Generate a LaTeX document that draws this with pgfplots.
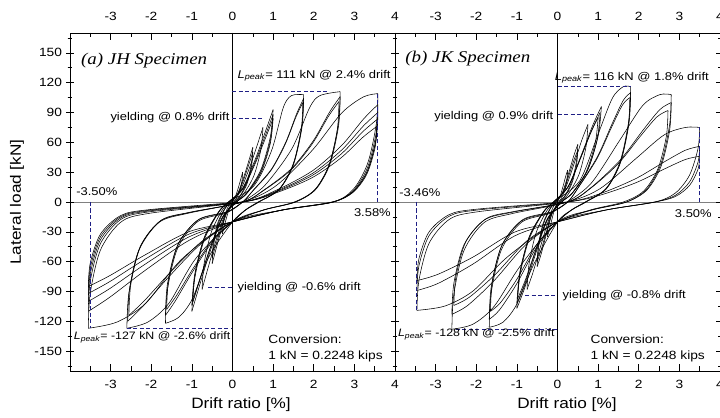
\documentclass[border=0pt]{standalone}
\usepackage{pgfplots}
\pgfplotsset{compat=1.18}
\usepackage{fontspec}
\setmainfont[FakeStretch=1.15]{Liberation Sans}
\newfontfamily\ttl[FakeStretch=1.15]{Liberation Serif}
\definecolor{dnavy}{rgb}{0.12,0.12,0.52}
\pgfplotsset{
  panel/.style={at={(#1,47bp)}, anchor=south west, scale only axis, width=325bp, height=338bp,
    xmin=-4, xmax=4, ymin=-170, ymax=170, clip mode=individual,
    xtick={-3,-2,-1,0,1,2,3,4}, minor xtick={-3.5,-2.5,-1.5,-0.5,0.5,1.5,2.5,3.5},
    ytick={-150,-120,-90,-60,-30,0,30,60,90,120,150},
    minor ytick={-165,-135,-105,-75,-45,-15,15,45,75,105,135,165},
    axis line style={line width=0.8bp}, tick style={black, line width=0.6bp},
    xtick align=inside, ytick align=center, major tick length=7bp, minor tick length=4.5bp,
    /pgf/number format/assume math mode=true,
    tick label style={font=\fontsize{12}{14}\selectfont}},
  hy/.style={black, line width=0.55bp, smooth, tension=0.5, mark=none},
  dl/.style={dnavy, line width=1bp, dash pattern=on 4bp off 2.5bp},
}
\tikzset{
  ann/.style={font=\fontsize{11.3}{13}\selectfont, inner sep=0pt},
  annb/.style={font=\fontsize{10.8}{13}\selectfont, inner sep=0pt},
  cnv/.style={font=\fontsize{12}{14}\selectfont, inner sep=0pt},
  ttlf/.style={font=\fontsize{16.5}{18}\selectfont\ttl\itshape, inner sep=0pt},
  lab/.style={font=\fontsize{15}{17}\selectfont, inner sep=0pt}
}
\begin{document}
\begin{tikzpicture}
\path[use as bounding box] (0,0) rectangle (720bp,418bp);
% ---------------- (a) JH ----------------
\begin{axis}[panel=70bp, xticklabel style={yshift=-6bp}, yticklabel style={xshift=-1bp}]
\addplot[gray, line width=0.7bp] coordinates {(-4,0) (4,0)};
\addplot[black, line width=0.6bp] coordinates {(0,-170) (0,170)};
\addplot[hy] coordinates {(0,0) (0.0625,4.5) (0.1375,13.5) (0.2,22.5) (0.25,30)};
\addplot[hy] coordinates {(0.25,30) (0.2325,21) (0.175,10.5) (0.0875,3) (0.025,0) (-0.0625,-4.8) (-0.1375,-14.4) (-0.2,-24) (-0.25,-32)};
\addplot[hy] coordinates {(-0.25,-32) (-0.2325,-22.4) (-0.175,-11.2) (-0.0875,-3.2) (-0.025,0) (0.125,8.25) (0.275,24.75) (0.4,41.25) (0.5,55)};
\addplot[hy] coordinates {(0.5,55) (0.465,38.5) (0.35,19.25) (0.175,5.5) (0.05,0) (-0.125,-9.3) (-0.275,-27.9) (-0.4,-46.5) (-0.5,-62)};
\addplot[hy] coordinates {(-0.5,-62) (-0.465,-43.4) (-0.35,-21.7) (-0.175,-6.2) (-0.05,0) (0.125,7.5) (0.275,22.5) (0.4,37.5) (0.5,50)};
\addplot[hy] coordinates {(0.5,50) (0.465,35) (0.35,17.5) (0.175,5) (0.05,0) (-0.125,-8.4) (-0.275,-25.2) (-0.4,-42) (-0.5,-56)};
\addplot[hy] coordinates {(-0.5,-56) (-0.465,-39.2) (-0.35,-19.6) (-0.175,-5.6) (-0.05,0) (0.1875,11.25) (0.4125,33.75) (0.6,56.25) (0.75,75)};
\addplot[hy] coordinates {(0.75,75) (0.6975,52.5) (0.525,26.25) (0.2625,7.5) (0.075,0) (-0.1875,-13.2) (-0.4125,-39.6) (-0.6,-66) (-0.75,-88)};
\addplot[hy] coordinates {(-0.75,-88) (-0.6975,-61.6) (-0.525,-30.8) (-0.2625,-8.8) (-0.075,0) (0.25,13.95) (0.55,41.85) (0.8,69.75) (1,93)};
\addplot[hy] coordinates {(1,93) (0.93,65.1) (0.7,32.55) (0.35,9.3) (0.1,0) (-0.25,-16.5) (-0.55,-49.5) (-0.8,-82.5) (-1,-110)};
\addplot[hy] coordinates {(-1,-110) (-0.93,-77) (-0.7,-38.5) (-0.35,-11) (-0.1,0) (0.25,13.2) (0.55,39.6) (0.8,66) (1,88)};
\addplot[hy] coordinates {(1,88) (0.93,61.6) (0.7,30.8) (0.35,8.8) (0.1,0) (-0.25,-15.6) (-0.55,-46.8) (-0.8,-78) (-1,-104)};
\addplot[hy] coordinates {(-1,-104) (-0.93,-72.8) (-0.7,-36.4) (-0.35,-10.4) (-0.1,0) (0.25,12.6) (0.55,37.8) (0.8,63) (1,84)};
\addplot[hy] coordinates {(1,84) (0.93,58.8) (0.7,29.4) (0.35,8.4) (0.1,0) (-0.245,-15) (-0.539,-45) (-0.784,-75) (-0.98,-100)};
\addplot[hy] coordinates {(-0.98,-100) (-0.911,-70) (-0.686,-35) (-0.343,-10) (-0.098,0) (0.525,16.2) (0.9625,51.8) (1.25,95) (1.45,107) (1.75,108)};
\addplot[hy] coordinates {(1.75,108) (1.71,77.8) (1.5,38.9) (1.15,13) (0.65,0) (0.325,-8) (0,-20) (-0.5775,-54.9) (-0.99,-97.6) (-1.32,-115.9) (-1.65,-122)};
\addplot[hy] coordinates {(-1.65,-122) (-1.6,-87.8) (-1.35,-46.4) (-0.85,-19.5) (-0.15,-11) (0.25,0) (0.525,12.5) (0.9625,33.3) (1.3125,60.3) (1.575,88.4) (1.75,104)};
\addplot[hy] coordinates {(1.75,104) (1.71,74.9) (1.5,37.4) (1.15,12.5) (0.65,0) (0.325,-8) (0,-20) (-0.495,-39.9) (-0.99,-70.7) (-1.4025,-99.2) (-1.65,-114)};
\addplot[hy] coordinates {(-1.65,-114) (-1.6,-82.1) (-1.35,-43.3) (-0.85,-18.2) (-0.15,-10.3) (0.25,0) (0.519,12) (0.9515,32) (1.2975,58) (1.557,85) (1.73,100)};
\addplot[hy] coordinates {(1.73,100) (1.69,72) (1.48,36) (1.13,12) (0.63,0) (0.315,-8) (0,-20) (-0.486,-37.8) (-0.972,-67) (-1.377,-94) (-1.62,-108)};
\addplot[hy] coordinates {(-1.62,-108) (-1.57,-77.8) (-1.32,-41) (-0.82,-17.3) (-0.12,-9.7) (0.25,0) (0.795,16.7) (1.4575,53.3) (1.9,95) (2.15,107) (2.65,111)};
\addplot[hy] coordinates {(2.65,111) (2.61,79.9) (2.4,40) (2.05,13.3) (1.55,0) (0.775,-8) (0,-20) (-0.91,-57.2) (-1.56,-101.6) (-2.08,-120.7) (-2.6,-127)};
\addplot[hy] coordinates {(-2.6,-127) (-2.55,-91.4) (-2.3,-48.3) (-1.8,-20.3) (-1.1,-11.4) (0.25,0) (0.795,12.7) (1.4575,33.9) (1.9875,61.5) (2.385,90.1) (2.65,106)};
\addplot[hy] coordinates {(2.65,106) (2.61,76.3) (2.4,38.2) (2.05,12.7) (1.55,0) (0.775,-8) (0,-20) (-0.774,-42) (-1.548,-74.4) (-2.193,-104.4) (-2.58,-120)};
\addplot[hy] coordinates {(-2.58,-120) (-2.53,-86.4) (-2.28,-45.6) (-1.78,-19.2) (-1.08,-10.8) (0.25,0) (0.786,12.1) (1.441,32.3) (1.965,58.6) (2.358,85.9) (2.62,101)};
\addplot[hy] coordinates {(2.62,101) (2.58,72.7) (2.37,36.4) (2.02,12.1) (1.52,0) (0.76,-8) (0,-20) (-0.765,-39.9) (-1.53,-70.7) (-2.1675,-99.2) (-2.55,-114)};
\addplot[hy] coordinates {(-2.55,-114) (-2.5,-82.1) (-2.25,-43.3) (-1.75,-18.2) (-1.05,-10.3) (0.25,0) (1.074,16.4) (1.969,52.3) (2.685,89.4) (3.222,105.7) (3.58,109)};
\addplot[hy] coordinates {(3.58,109) (3.54,78.5) (3.33,39.2) (2.98,13.1) (2.48,0) (1.24,-8) (0,-20) (-1.2425,-57.2) (-2.13,-101.6) (-2.84,-120.7) (-3.55,-127)};
\addplot[hy] coordinates {(-3.55,-127) (-3.5,-91.4) (-3.25,-48.3) (-2.75,-20.3) (-2.05,-11.4) (0.25,0) (1.074,11.8) (1.969,31.4) (2.685,56.8) (3.222,83.3) (3.58,98)};
\addplot[hy] coordinates {(3.58,98) (3.54,70.6) (3.33,35.3) (2.98,11.8) (2.48,0) (1.24,-8) (0,-20) (-1.065,-38.5) (-2.13,-68.2) (-3.0175,-95.7) (-3.55,-110)};
\addplot[hy] coordinates {(-3.55,-110) (-3.5,-79.2) (-3.25,-41.8) (-2.75,-17.6) (-2.05,-9.9) (0.25,0) (1.074,10.8) (1.969,28.8) (2.685,52.2) (3.222,76.5) (3.58,90)};
\addplot[hy] coordinates {(3.58,90) (3.54,64.8) (3.33,32.4) (2.98,10.8) (2.48,0) (1.24,-8) (0,-20) (-1.065,-35) (-2.13,-62) (-3.0175,-87) (-3.55,-100)};
\addplot[hy] coordinates {(-3.55,-100) (-3.5,-72) (-3.25,-38) (-2.75,-16) (-2.05,-9) (0.25,0) (1.068,10) (1.958,26.6) (2.67,48.1) (3.204,70.6) (3.56,83)};
\addplot[hy] coordinates {(3.56,83) (3.52,59.8) (3.31,29.9) (2.96,10) (2.46,0) (1.23,-8) (0,-20) (-1.065,-32.2) (-2.13,-57) (-3.0175,-80) (-3.55,-92)};
\addplot[hy] coordinates {(-3.55,-92) (-3.5,-66.2) (-3.25,-35) (-2.75,-14.7) (-2.05,-8.3) (0.25,0) (1.065,9.1) (1.9525,24.3) (2.6625,44.1) (3.195,64.6) (3.55,76)};
\addplot[hy] coordinates {(3.55,76) (3.51,54.7) (3.3,27.4) (2.95,9.1) (2.45,0) (1.225,-8) (0,-20) (-1.065,-29.8) (-2.13,-52.7) (-3.0175,-74) (-3.55,-85)};
\addplot[hy] coordinates {(-3.55,-85) (-3.5,-61.2) (-3.25,-32.3) (-2.75,-13.6) (-2.05,-7.7) (0.25,0)};
% dashed markers
\addplot[dl] coordinates {(0,111) (2.4,111)};
\addplot[dl] coordinates {(0,84) (0.8,84)};
\addplot[dl] coordinates {(3.58,0) (3.58,109)};
\addplot[dl] coordinates {(-3.5,0) (-3.5,-127)};
\addplot[dl] coordinates {(-0.6,-86) (0,-86)};
\addplot[dl] coordinates {(-2.6,-127) (0,-127)};
% texts
\node[ttlf, anchor=west] at (axis cs:-3.73,142) {(a) JH Specimen};
\node[ann, anchor=west] at (axis cs:0.12,127) {\textit{L}\textsubscript{\textit{peak}}= 111 kN @ 2.4\% drift};
\node[ann, anchor=east] at (axis cs:-0.07,85) {yielding @ 0.8\% drift};
\node[ann, anchor=west] at (axis cs:-3.85,10) {-3.50\%};
\node[ann, anchor=east] at (axis cs:3.9,-11) {3.58\%};
\node[ann, anchor=west] at (axis cs:0.12,-86) {yielding @ -0.6\% drift};
\node[annb, anchor=east] at (axis cs:-0.05,-136) {\textit{L}\textsubscript{\textit{peak}}= -127 kN @ -2.6\% drift};
\node[cnv, anchor=west] at (axis cs:0.88,-138) {Conversion:};
\node[cnv, anchor=west] at (axis cs:0.88,-155) {1 kN = 0.2248 kips};
\node[lab, rotate=90] at (axis description cs:-0.163,0.5) {Lateral load [kN]};
\node[lab] at (axis description cs:0.526,-0.10) {Drift ratio [\%]};
\end{axis}
\begin{axis}[panel=70bp, xticklabel pos=right, yticklabels={}, xticklabel style={yshift=9bp}]
\end{axis}
% ---------------- (b) JK ----------------
\begin{axis}[panel=395bp, yticklabels={}, xticklabel style={yshift=-6bp}]
\addplot[gray, line width=0.7bp] coordinates {(-4,0) (4,0)};
\addplot[black, line width=0.6bp] coordinates {(0,-170) (0,170)};
\addplot[hy] coordinates {(0,0) (0.0625,5.4) (0.1375,16) (0.2,25.6) (0.25,32)};
\addplot[hy] coordinates {(0.25,32) (0.2325,22.4) (0.175,11.2) (0.0875,3.2) (0.025,0) (-0.0625,-6) (-0.1375,-17.5) (-0.2,-28) (-0.25,-35)};
\addplot[hy] coordinates {(-0.25,-35) (-0.2325,-24.5) (-0.175,-12.3) (-0.0875,-3.5) (-0.025,0) (0.125,9.9) (0.275,29) (0.4,46.4) (0.5,58)};
\addplot[hy] coordinates {(0.5,58) (0.465,40.6) (0.35,20.3) (0.175,5.8) (0.05,0) (-0.125,-11) (-0.275,-32.5) (-0.4,-52) (-0.5,-65)};
\addplot[hy] coordinates {(-0.5,-65) (-0.465,-45.5) (-0.35,-22.8) (-0.175,-6.5) (-0.05,0) (0.125,8.8) (0.275,26) (0.4,41.6) (0.5,52)};
\addplot[hy] coordinates {(0.5,52) (0.465,36.4) (0.35,18.2) (0.175,5.2) (0.05,0) (-0.125,-10.2) (-0.275,-30) (-0.4,-48) (-0.5,-60)};
\addplot[hy] coordinates {(-0.5,-60) (-0.465,-42) (-0.35,-21) (-0.175,-6) (-0.05,0) (0.1875,13.3) (0.4125,39) (0.6,62.4) (0.75,78)};
\addplot[hy] coordinates {(0.75,78) (0.6975,54.6) (0.525,27.3) (0.2625,7.8) (0.075,0) (-0.1875,-15) (-0.4125,-44) (-0.6,-70.4) (-0.75,-88)};
\addplot[hy] coordinates {(-0.75,-88) (-0.6975,-61.6) (-0.525,-30.8) (-0.2625,-8.8) (-0.075,0) (0.27,16.3) (0.594,48) (0.864,76.8) (1.08,96)};
\addplot[hy] coordinates {(1.08,96) (1.0044,67.2) (0.756,33.6) (0.378,9.6) (0.108,0) (-0.25,-18.2) (-0.55,-53.5) (-0.8,-85.6) (-1,-107)};
\addplot[hy] coordinates {(-1,-107) (-0.93,-74.9) (-0.7,-37.5) (-0.35,-10.7) (-0.1,0) (0.2625,15.3) (0.5775,45) (0.84,72) (1.05,90)};
\addplot[hy] coordinates {(1.05,90) (0.9765,63) (0.735,31.5) (0.3675,9) (0.105,0) (-0.25,-17.3) (-0.55,-51) (-0.8,-81.6) (-1,-102)};
\addplot[hy] coordinates {(-1,-102) (-0.93,-71.4) (-0.7,-35.7) (-0.35,-10.2) (-0.1,0) (0.25,14.5) (0.55,42.5) (0.8,68) (1,85)};
\addplot[hy] coordinates {(1,85) (0.93,59.5) (0.7,29.8) (0.35,8.5) (0.1,0) (-0.245,-16.5) (-0.539,-48.5) (-0.784,-77.6) (-0.98,-97)};
\addplot[hy] coordinates {(-0.98,-97) (-0.911,-67.9) (-0.686,-34) (-0.343,-9.7) (-0.098,0) (0.54,20.9) (0.99,67.3) (1.35,104.4) (1.62,116) (1.8,116)};
\addplot[hy] coordinates {(1.8,116) (1.76,83.5) (1.55,41.8) (1.2,13.9) (0.7,0) (0.35,-8) (0,-20) (-0.588,-63) (-1.008,-103.3) (-1.344,-121) (-1.68,-126)};
\addplot[hy] coordinates {(-1.68,-126) (-1.63,-90.7) (-1.38,-47.9) (-0.88,-20.2) (-0.18,-11.3) (0.25,0) (0.54,16.5) (0.99,46.2) (1.35,79.2) (1.62,102.3) (1.8,110)};
\addplot[hy] coordinates {(1.8,110) (1.76,79.2) (1.55,39.6) (1.2,13.2) (0.7,0) (0.35,-8) (0,-20) (-0.504,-44.8) (-1.008,-82.6) (-1.428,-108.6) (-1.68,-118)};
\addplot[hy] coordinates {(-1.68,-118) (-1.63,-85) (-1.38,-44.8) (-0.88,-18.9) (-0.18,-10.6) (0.25,0) (0.534,15.8) (0.979,44.1) (1.335,75.6) (1.602,97.7) (1.78,105)};
\addplot[hy] coordinates {(1.78,105) (1.74,75.6) (1.53,37.8) (1.18,12.6) (0.68,0) (0.34,-8) (0,-20) (-0.495,-41.8) (-0.99,-77) (-1.4025,-101.2) (-1.65,-110)};
\addplot[hy] coordinates {(-1.65,-110) (-1.6,-79.2) (-1.35,-41.8) (-0.85,-17.6) (-0.15,-9.9) (0.25,0) (0.84,19.4) (1.54,62.6) (2.1,97.2) (2.52,108) (2.8,108)};
\addplot[hy] coordinates {(2.8,108) (2.76,77.8) (2.55,38.9) (2.2,13) (1.7,0) (0.85,-8) (0,-20) (-0.91,-64) (-1.56,-105) (-2.08,-122.9) (-2.6,-128)};
\addplot[hy] coordinates {(-2.6,-128) (-2.55,-92.2) (-2.3,-48.6) (-1.8,-20.5) (-1.1,-11.5) (0.25,0) (0.84,15) (1.54,42) (2.1,72) (2.52,93) (2.8,100)};
\addplot[hy] coordinates {(2.8,100) (2.76,72) (2.55,36) (2.2,12) (1.7,0) (0.85,-8) (0,-20) (-0.78,-42.9) (-1.56,-79.1) (-2.21,-104) (-2.6,-113)};
\addplot[hy] coordinates {(-2.6,-113) (-2.55,-81.4) (-2.3,-42.9) (-1.8,-18.1) (-1.1,-10.2) (0.25,0) (0.816,13.8) (1.496,38.6) (2.04,66.2) (2.448,85.6) (2.72,92)};
\addplot[hy] coordinates {(2.72,92) (2.68,66.2) (2.47,33.1) (2.12,11) (1.62,0) (0.81,-8) (0,-20) (-0.765,-39.5) (-1.53,-72.8) (-2.1675,-95.7) (-2.55,-104)};
\addplot[hy] coordinates {(-2.55,-104) (-2.5,-74.9) (-2.25,-39.5) (-1.75,-16.6) (-1.05,-9.4) (0.25,0) (1.05,13.5) (1.925,43.5) (2.625,67.5) (3.15,75) (3.5,75)};
\addplot[hy] coordinates {(3.5,75) (3.46,54) (3.25,27) (2.9,9) (2.4,0) (1.2,-8) (0,-20) (-1.211,-54.5) (-2.076,-89.4) (-2.768,-104.6) (-3.46,-109)};
\addplot[hy] coordinates {(-3.46,-109) (-3.41,-78.5) (-3.16,-41.4) (-2.66,-17.4) (-1.96,-9.8) (0.25,0) (1.05,8.4) (1.925,23.5) (2.625,40.3) (3.15,52.1) (3.5,56)};
\addplot[hy] coordinates {(3.5,56) (3.46,40.3) (3.25,20.2) (2.9,6.7) (2.4,0) (1.2,-8) (0,-20) (-1.038,-33.8) (-2.076,-62.3) (-2.941,-81.9) (-3.46,-89)};
\addplot[hy] coordinates {(-3.46,-89) (-3.41,-64.1) (-3.16,-33.8) (-2.66,-14.2) (-1.96,-8) (0.25,0) (1.05,6.9) (1.925,19.3) (2.625,33.1) (3.15,42.8) (3.5,46)};
\addplot[hy] coordinates {(3.5,46) (3.46,33.1) (3.25,16.6) (2.9,5.5) (2.4,0) (1.2,-8) (0,-20) (-1.038,-30) (-2.076,-55.3) (-2.941,-72.7) (-3.46,-79)};
\addplot[hy] coordinates {(-3.46,-79) (-3.41,-56.9) (-3.16,-30) (-2.66,-12.6) (-1.96,-7.1) (0.25,0)};
% dashed markers
\addplot[dl] coordinates {(0,116) (1.8,116)};
\addplot[dl] coordinates {(0,88) (0.9,88)};
\addplot[dl] coordinates {(3.5,0) (3.5,75)};
\addplot[dl] coordinates {(-3.46,0) (-3.46,-109)};
\addplot[dl] coordinates {(-0.8,-94) (0,-94)};
\addplot[dl] coordinates {(-2.5,-128) (0,-128)};
% texts
\node[ttlf, anchor=west] at (axis cs:-3.75,144) {(b) JK Specimen};
\node[ann, anchor=west] at (axis cs:-0.07,125) {\textit{L}\textsubscript{\textit{peak}}= 116 kN @ 1.8\% drift};
\node[ann, anchor=east] at (axis cs:-0.1,86) {yielding @ 0.9\% drift};
\node[ann, anchor=west] at (axis cs:-3.9,9) {-3.46\%};
\node[ann, anchor=east] at (axis cs:3.8,-12) {3.50\%};
\node[ann, anchor=west] at (axis cs:0.12,-94) {yielding @ -0.8\% drift};
\node[annb, anchor=east] at (axis cs:-0.07,-133) {\textit{L}\textsubscript{\textit{peak}}= -128 kN @ -2.5\% drift};
\node[cnv, anchor=west] at (axis cs:0.81,-138) {Conversion:};
\node[cnv, anchor=west] at (axis cs:0.81,-155) {1 kN = 0.2248 kips};
\node[lab] at (axis description cs:0.529,-0.10) {Drift ratio [\%]};
\end{axis}
\begin{axis}[panel=395bp, xticklabel pos=right, yticklabels={}, xticklabel style={yshift=9bp}]
\end{axis}
\end{tikzpicture}
\end{document}
